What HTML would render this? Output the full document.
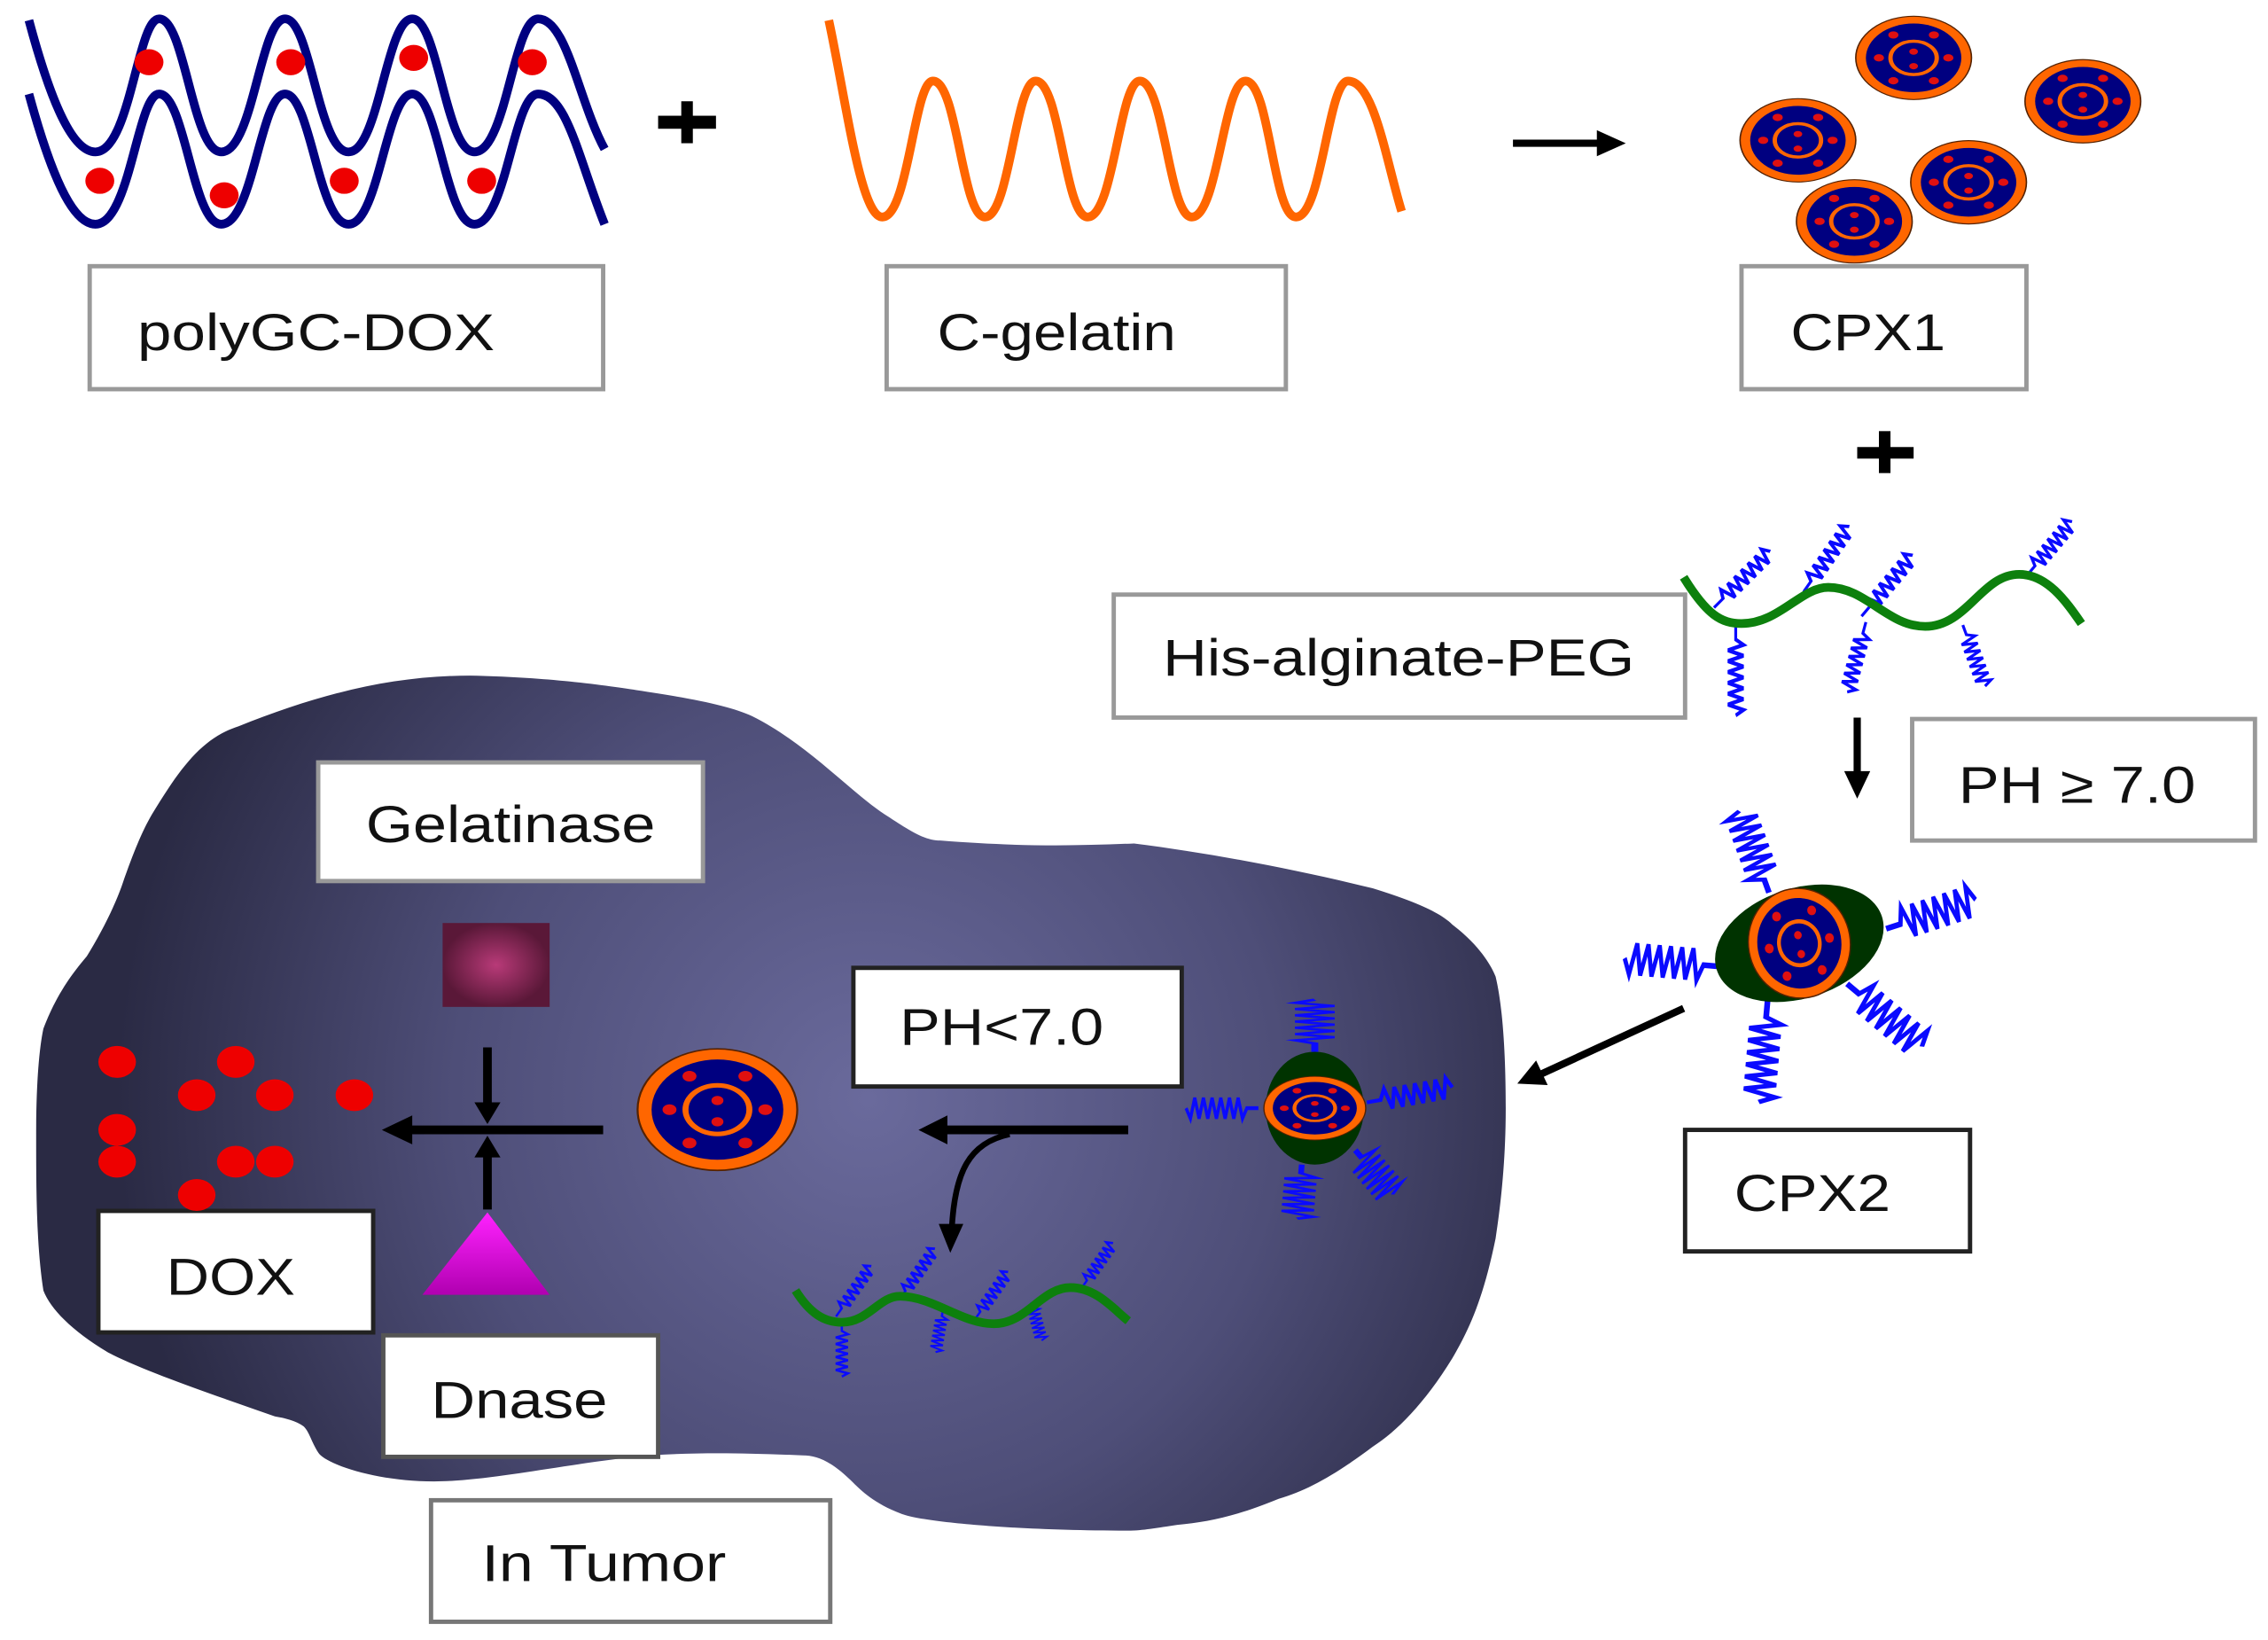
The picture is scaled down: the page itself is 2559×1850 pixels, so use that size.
<!DOCTYPE html>
<html><head><meta charset="utf-8"><style>
html,body{margin:0;padding:0;background:#fff;}
svg{display:block;}
text{font-family:"Liberation Sans",sans-serif;fill:#111;}
</style></head><body>
<svg width="2559" height="1850" viewBox="0 0 1568 1133.6" preserveAspectRatio="none" xmlns="http://www.w3.org/2000/svg">
<defs>
<radialGradient id="tum" cx="600" cy="760" r="520" gradientUnits="userSpaceOnUse">
<stop offset="0" stop-color="#6a6a9c"/><stop offset="0.55" stop-color="#4e4e78"/><stop offset="1" stop-color="#2a2a44"/></radialGradient>
<radialGradient id="sq"><stop offset="0" stop-color="#b83a78"/><stop offset="1" stop-color="#5a1838"/></radialGradient>
<linearGradient id="tri" x1="0" y1="0" x2="0" y2="1"><stop offset="0" stop-color="#ff22ff"/><stop offset="1" stop-color="#b000b0"/></linearGradient>
<g id="p">
<circle r="40" fill="#ff6600" stroke="#552200" stroke-width="1"/>
<circle r="33" fill="#000080"/>
<circle r="16" fill="none" stroke="#ff6600" stroke-width="3"/>
<g fill="#e01010"><circle cx="-24" cy="0" r="3.5"/><circle cx="24" cy="0" r="3.5"/><circle cx="-14" cy="-22" r="3.5"/><circle cx="14" cy="-22" r="3.5"/><circle cx="-14" cy="22" r="3.5"/><circle cx="14" cy="22" r="3.5"/><circle cx="0" cy="-6" r="3"/><circle cx="0" cy="8" r="3"/></g>
</g>
<path id="s" d="M0,0 L8,0 L11,-6 L14,6 L17,-6 L20,6 L23,-6 L26,6 L29,-6 L32,6 L35,-6 L38,6 L41,-6 L44,6 L47,-6 L50,0" fill="none" stroke="#0a0aff" stroke-width="2.2"/>
</defs>

<path d="M20,14 C35,70 50,105 66,105 C90,105 95,13 110,13 C128,13 133,105 153,105 C175,105 180,13 197,13 C215,13 220,105 241,105 C262,105 267,13 285,13 C303,13 308,105 328,105 C350,105 355,13 372,13 C392,13 400,70 418,103" fill="none" stroke="#000080" stroke-width="6"/>
<path d="M20,65 C35,120 50,155 66,155 C90,155 95,65 110,65 C128,65 133,155 153,155 C175,155 180,65 197,65 C215,65 220,155 241,155 C262,155 267,65 285,65 C303,65 308,155 328,155 C350,155 355,65 372,65 C392,65 400,110 418,155" fill="none" stroke="#000080" stroke-width="6"/>
<g fill="#ee0000"><ellipse cx="103" cy="43" rx="10" ry="9"/><ellipse cx="201" cy="43" rx="10" ry="9"/><ellipse cx="286" cy="40" rx="10" ry="9"/><ellipse cx="368" cy="43" rx="10" ry="9"/><ellipse cx="69" cy="125" rx="10" ry="9"/><ellipse cx="155" cy="135" rx="10" ry="9"/><ellipse cx="238" cy="125" rx="10" ry="9"/><ellipse cx="333" cy="125" rx="10" ry="9"/></g>
<rect x="455" y="80" width="40" height="9" fill="#000"/><rect x="471" y="70" width="8" height="29" fill="#000"/>
<path d="M573,14 C585,70 595,150 610,150 C628,150 632,56 645,56 C662,56 665,150 681,150 C698,150 702,56 716,56 C733,56 736,150 752,150 C770,150 774,56 788,56 C805,56 808,150 824,150 C842,150 846,56 861,56 C878,56 880,150 896,150 C914,150 918,56 932,56 C950,56 958,110 969,146" fill="none" stroke="#ff6600" stroke-width="6"/>
<line x1="1046" y1="99" x2="1108" y2="99" stroke="#000" stroke-width="5"/><path d="M1104,90 L1124,99 L1104,108 z" fill="#000"/>
<use href="#p" transform="translate(1323,40) scale(1,0.72)"/>
<use href="#p" transform="translate(1440,70) scale(1,0.72)"/>
<use href="#p" transform="translate(1243,97) scale(1,0.72)"/>
<use href="#p" transform="translate(1361,126) scale(1,0.72)"/>
<use href="#p" transform="translate(1282,153) scale(1,0.72)"/>

<g fill="#fff" stroke="#999" stroke-width="3">
<rect x="62" y="184" width="355" height="85"/>
<rect x="613" y="184" width="276" height="85"/>
<rect x="1204" y="184" width="197" height="85"/>
<rect x="770" y="411" width="395" height="85"/>
<rect x="1322" y="497" width="237" height="84"/>
</g>
<g font-size="36">
<text x="95" y="242" textLength="247" lengthAdjust="spacingAndGlyphs">polyGC-DOX</text>
<text x="648" y="242" textLength="165" lengthAdjust="spacingAndGlyphs">C-gelatin</text>
<text x="1238" y="242" textLength="107" lengthAdjust="spacingAndGlyphs">CPX1</text>
<text x="804" y="467" textLength="326" lengthAdjust="spacingAndGlyphs">His-alginate-PEG</text>
<text x="1354" y="555" textLength="164" lengthAdjust="spacingAndGlyphs">PH ≥ 7.0</text>
</g>
<rect x="1284" y="309" width="39" height="8" fill="#000"/><rect x="1299" y="298" width="8" height="29" fill="#000"/>
<use href="#s" transform="translate(1185,420) rotate(-45) scale(1.1,0.9)"/>
<use href="#s" transform="translate(1247,409) rotate(-55) scale(1.1,0.9)"/>
<use href="#s" transform="translate(1287,426) rotate(-50) scale(1.1,0.9)"/>
<use href="#s" transform="translate(1402,397) rotate(-50) scale(0.95,0.9)"/>
<use href="#s" transform="translate(1200,432) rotate(90) scale(1.25,0.9)"/>
<use href="#s" transform="translate(1290,430) rotate(105) scale(1.0,0.9)"/>
<use href="#s" transform="translate(1357,432) rotate(70) scale(0.9,0.9)"/>
<path d="M1164,399 C1180,425 1190,431 1204,431 C1230,431 1245,406 1264,406 C1290,406 1305,433 1331,433 C1360,433 1370,397 1396,397 C1415,397 1428,415 1439,431" fill="none" stroke="#0d800d" stroke-width="6"/>
<line x1="1284" y1="496" x2="1284" y2="537" stroke="#000" stroke-width="5"/><path d="M1275,533 L1284,552 L1293,533 z" fill="#000"/>

<path d="M105,563 C125,530 140,510 165,502 C220,480 270,467 325,467 C380,468 420,474 440,477 C480,483 505,488 520,495 C560,515 590,550 615,565 C630,575 640,581 650,581 C700,585 740,585 784,583 C840,590 900,602 949,614 C975,622 995,630 1004,639 C1025,655 1032,670 1034,675 C1040,700 1041,740 1041,766 C1041,800 1038,830 1034,856 C1025,900 1015,920 1004,939 C985,970 965,990 949,1000 C925,1018 905,1030 884,1036 C855,1048 835,1052 814,1054 C800,1056 790,1058 780,1058 C700,1058 640,1052 625,1047 C605,1040 595,1030 590,1025 C575,1010 565,1006 555,1006 C510,1004 480,1004 450,1006 C400,1010 340,1024 300,1024 C260,1024 225,1012 220,1004 C215,996 214,990 210,986 C205,982 196,980 190,979 C150,965 100,948 75,935 C50,920 35,905 30,892 C25,860 25,820 25,784 C25,750 27,725 30,711 C38,690 48,675 60,661 C70,645 80,625 85,610 C92,590 98,575 105,563 Z" fill="url(#tum)"/>

<g fill="#fff" stroke="#999" stroke-width="3">
<rect x="220" y="527" width="266" height="82"/>
<rect x="590" y="669" width="227" height="82" stroke="#222"/>
<rect x="68" y="837" width="190" height="84" stroke="#222"/>
<rect x="265" y="923" width="190" height="84" stroke="#555"/>
<rect x="298" y="1037" width="276" height="84" stroke="#777"/>
<rect x="1165" y="781" width="197" height="84" stroke="#222"/>
</g>
<g font-size="36">
<text x="253" y="582" textLength="200" lengthAdjust="spacingAndGlyphs">Gelatinase</text>
<text x="622" y="722" textLength="141" lengthAdjust="spacingAndGlyphs">PH&lt;7.0</text>
<text x="115" y="895" textLength="89" lengthAdjust="spacingAndGlyphs">DOX</text>
<text x="298" y="980" textLength="122" lengthAdjust="spacingAndGlyphs">Dnase</text>
<text x="333" y="1093" textLength="169" lengthAdjust="spacingAndGlyphs">In Tumor</text>
<text x="1199" y="837" textLength="108" lengthAdjust="spacingAndGlyphs">CPX2</text>
</g>

<rect x="306" y="638" width="74" height="58" fill="url(#sq)"/>
<path d="M337,838 L380,895 L292,895 z" fill="url(#tri)"/>
<line x1="417" y1="781" x2="280" y2="781" stroke="#000" stroke-width="6"/><path d="M285,771 L264,781 L285,791 z" fill="#000"/>
<line x1="337" y1="724" x2="337" y2="765" stroke="#000" stroke-width="6"/><path d="M328,762 L337,777 L346,762 z" fill="#000"/>
<line x1="337" y1="836" x2="337" y2="797" stroke="#000" stroke-width="6"/><path d="M328,800 L337,785 L346,800 z" fill="#000"/>
<g fill="#ee0000">
<ellipse cx="81" cy="734" rx="13" ry="11"/><ellipse cx="163" cy="734" rx="13" ry="11"/>
<ellipse cx="136" cy="757" rx="13" ry="11"/><ellipse cx="190" cy="757" rx="13" ry="11"/><ellipse cx="245" cy="757" rx="13" ry="11"/>
<ellipse cx="81" cy="781" rx="13" ry="11"/><ellipse cx="81" cy="803" rx="13" ry="11"/>
<ellipse cx="163" cy="803" rx="13" ry="11"/><ellipse cx="190" cy="803" rx="13" ry="11"/>
<ellipse cx="136" cy="826" rx="13" ry="11"/>
</g>
<use href="#p" transform="translate(496,767) scale(1.38,1.05)"/>
<line x1="780" y1="781" x2="650" y2="781" stroke="#000" stroke-width="6"/><path d="M655,771 L635,781 L655,791 z" fill="#000"/>
<path d="M698,784 C670,790 660,810 658,850" fill="none" stroke="#000" stroke-width="4"/><path d="M649,846 L657,866 L666,846 z" fill="#000"/>
<use href="#s" transform="translate(578,910) rotate(-55) scale(0.85,0.7)"/>
<use href="#s" transform="translate(622,898) rotate(-55) scale(0.85,0.7)"/>
<use href="#s" transform="translate(674,912) rotate(-55) scale(0.8,0.7)"/>
<use href="#s" transform="translate(748,890) rotate(-55) scale(0.75,0.7)"/>
<use href="#s" transform="translate(582,914) rotate(90) scale(0.75,0.7)"/>
<use href="#s" transform="translate(652,905) rotate(100) scale(0.6,0.7)"/>
<use href="#s" transform="translate(713,900) rotate(75) scale(0.55,0.7)"/>
<path d="M550,892 C560,908 570,914 582,914 C600,914 608,896 622,896 C645,896 665,915 687,915 C710,915 720,890 740,890 C758,890 770,905 780,913" fill="none" stroke="#0d800d" stroke-width="6"/>

<use href="#s" transform="translate(909,727) rotate(-90) scale(0.72,2.2)"/>
<use href="#s" transform="translate(870,766) rotate(180) scale(1.0,1.2)"/>
<use href="#s" transform="translate(945,762) rotate(-10) scale(1.2,1.2)"/>
<use href="#s" transform="translate(900,805) rotate(95) scale(0.75,1.8)"/>
<use href="#s" transform="translate(937,795) rotate(50) scale(0.8,1.8)"/>
<ellipse cx="909" cy="766" rx="34" ry="39" fill="#003300"/>
<use href="#p" transform="translate(909,766) scale(0.88,0.55)"/>

<use href="#s" transform="translate(1223,617) rotate(-110) scale(1.2,1.8)"/>
<use href="#s" transform="translate(1188,668) rotate(185) scale(1.3,1.8)"/>
<use href="#s" transform="translate(1304,642) rotate(-18) scale(1.3,1.8)"/>
<use href="#s" transform="translate(1222,692) rotate(95) scale(1.4,1.8)"/>
<use href="#s" transform="translate(1277,680) rotate(40) scale(1.35,1.8)"/>
<ellipse cx="1244" cy="652" rx="60" ry="38" fill="#003300" transform="rotate(-18 1244 652)"/>
<g transform="translate(1244,652) rotate(-10) scale(0.88,0.95)"><use href="#p"/></g>
<line x1="1164" y1="697" x2="1062" y2="744" stroke="#000" stroke-width="5"/><path d="M1062,733 L1049,749 L1070,750 z" fill="#000"/>
</svg>
</body></html>
